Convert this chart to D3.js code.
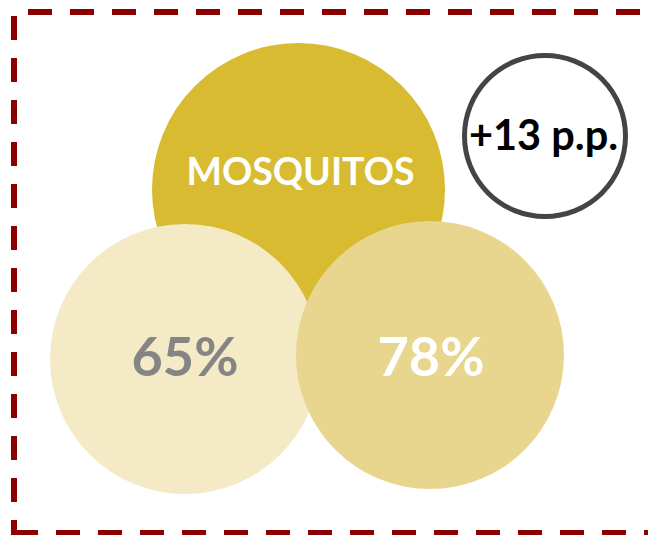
<!DOCTYPE html>
<html>
<head>
<meta charset="utf-8">
<script src="https://cdn.jsdelivr.net/npm/d3@7"></script>
<style>
html,body{margin:0;padding:0;background:#fff;}
svg{display:block;}
</style>
</head>
<body>
<div id="chart"></div>
<script>
// Data
const category = "MOSQUITOS";
const periods = ["before", "after"];
const values = [65, 78];
const deltaLabel = "+13 p.p.";

const W = 648, H = 535;
const svg = d3.select("#chart").append("svg").attr("width", W).attr("height", H);

// Dashed frame (left, top, bottom; open on the right)
const frame = svg.append("g").attr("fill", "none").attr("stroke", "#8B0000")
  .attr("stroke-width", 6).attr("stroke-dasharray", "24 18");
frame.append("line").attr("x1", 28).attr("y1", 12).attr("x2", 660).attr("y2", 12);
frame.append("line").attr("x1", 14).attr("y1", 16).attr("x2", 14).attr("y2", 535);
frame.append("line").attr("x1", 14).attr("y1", 533).attr("x2", 660).attr("y2", 533);

const font = "Lato, 'Open Sans', sans-serif";

// Category circle
svg.append("circle").attr("cx", 298.5).attr("cy", 189.5).attr("r", 146.5).attr("fill", "#D8BB30");
svg.append("text").attr("x", 300.5).attr("y", 185).attr("text-anchor", "middle")
  .attr("font-family", font).attr("font-weight", 700).attr("font-size", 37.5)
  .attr("fill", "#fff").text(category);

// Value circles
const xPos = d3.scalePoint().domain(periods).range([185, 430]);
const fills = ["#F4EAC6", "#E8D68E"];
const cys = [359, 355];
const rs = [135, 134];
const textFills = ["#858585", "#ffffff"];
const g = svg.selectAll("g.val").data(periods).join("g").attr("class", "val");
g.append("circle").attr("cx", d => xPos(d)).attr("cy", (d, i) => cys[i]).attr("r", (d, i) => rs[i])
  .attr("fill", (d, i) => fills[i]);
g.append("text").attr("x", (d, i) => xPos(d) + (i ? 1 : 0)).attr("y", 376).attr("text-anchor", "middle")
  .attr("font-family", font).attr("font-weight", 700).attr("font-size", 54)
  .attr("fill", (d, i) => textFills[i]).text((d, i) => values[i] + "%");

// Delta ring
svg.append("circle").attr("cx", 545).attr("cy", 136).attr("r", 80.5)
  .attr("fill", "#fff").attr("stroke", "#444").attr("stroke-width", 5);
svg.append("text").attr("x", 543.5).attr("y", 150).attr("text-anchor", "middle")
  .attr("font-family", font).attr("font-weight", 700).attr("font-size", 41.5)
  .attr("fill", "#000").text(deltaLabel);
</script>
</body>
</html>
